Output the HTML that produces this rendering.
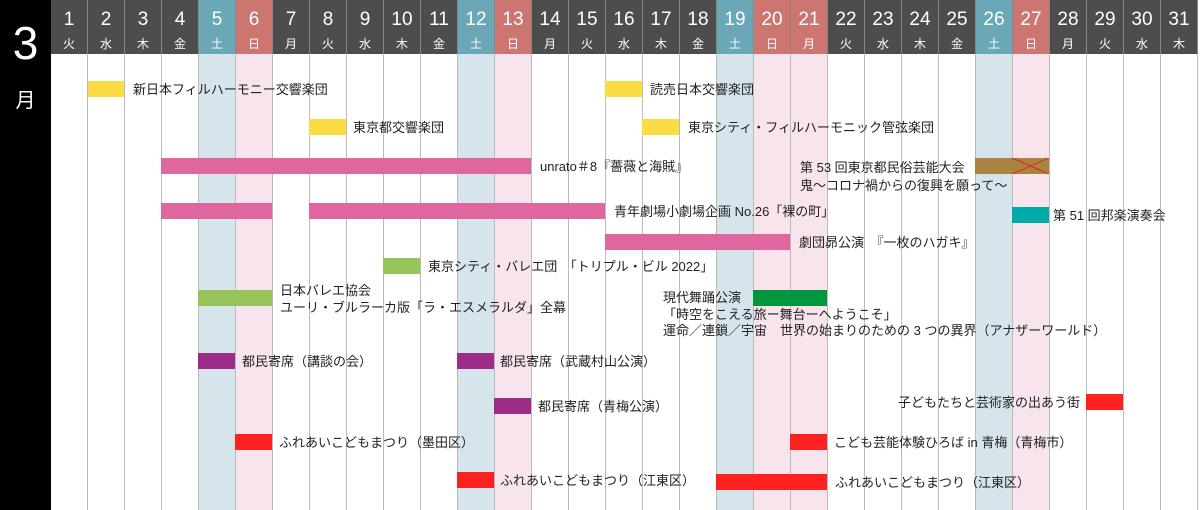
<!DOCTYPE html>
<html><head><meta charset="utf-8"><style>
body{margin:0;width:1200px;height:510px;overflow:hidden;background:#fff;font-family:"Liberation Sans","Noto Sans CJK JP",sans-serif;position:relative}
.a{position:absolute}
.col{position:absolute;top:0;height:510px;width:37px;box-sizing:border-box;border-right:1px solid #bbb}
.hd{position:absolute;top:0;height:54px;width:37px;color:#fff;text-align:center;box-sizing:border-box;border-right:1px solid #888}
.hd b{display:block;font-weight:normal;font-size:19px;margin-top:9px;line-height:22px}
.hd i{display:block;font-style:normal;font-size:12px;line-height:18px;margin-top:4px}
.bar{position:absolute;height:16px}
.t{position:absolute;font-size:13px;color:#222;white-space:nowrap;line-height:16px}
</style></head><body>
<div class="a" style="left:0;top:0;width:51px;height:510px;background:#000"></div>
<div class="a" style="left:0;top:18px;width:51px;text-align:center;color:#fff;font-size:46px;line-height:50px">3</div>
<div class="a" style="left:0;top:84px;width:51px;text-align:center;color:#fff;font-size:20px">月</div>
<div id="g"></div>
<script>
var w=["火","水","木","金","土","日","月"],h="";
for(var d=1;d<=31;d++){var x=51+37*(d-1),wd=w[(d-1)%7];
var sat=wd=="土",sun=wd=="日"||d==21;
var cb=sat?"#d6e5ec":sun?"#f8e4ec":"#fff";
var hb=sat?"#6aa8b8":sun?"#cd7570":"#4d4d4d";
h+='<div class="col" style="left:'+x+'px;background:'+cb+'"></div>';
h+='<div class="hd" style="left:'+x+'px;background:'+hb+'"><b>'+d+'</b><i>'+wd+'</i></div>';}
document.getElementById("g").innerHTML=h;
</script>
<div class="bar" style="left:88px;top:81px;width:36px;background:#fcdc44"></div>
<div class="t" style="left:133px;top:82px">新日本フィルハーモニー交響楽団</div>
<div class="bar" style="left:605px;top:81px;width:37px;background:#fcdc44"></div>
<div class="t" style="left:650px;top:82px">読売日本交響楽団</div>
<div class="bar" style="left:309px;top:119px;width:37px;background:#fcdc44"></div>
<div class="t" style="left:353px;top:120px">東京都交響楽団</div>
<div class="bar" style="left:642px;top:119px;width:37px;background:#fcdc44"></div>
<div class="t" style="left:688px;top:120px">東京シティ・フィルハーモニック管弦楽団</div>
<div class="bar" style="left:161px;top:158px;width:370px;background:#e066a0"></div>
<div class="t" style="left:540px;top:159px">unrato＃8『薔薇と海賊』</div>
<div class="t" style="left:800px;top:159px;line-height:18px">第 53 回東京都民俗芸能大会<br>鬼〜コロナ禍からの復興を願って〜</div>
<div class="bar" style="left:975px;top:158px;width:74px;background:#a88442"></div>
<svg class="a" style="left:1012px;top:158px" width="37" height="16"><path d="M0 0L37 16M0 16L37 0" stroke="#e82020" stroke-width="1"/></svg>
<div class="bar" style="left:161px;top:203px;width:111px;background:#e066a0"></div>
<div class="bar" style="left:309px;top:203px;width:296px;background:#e066a0"></div>
<div class="t" style="left:614px;top:204px">青年劇場小劇場企画 No.26「裸の町」</div>
<div class="bar" style="left:1012px;top:207px;width:37px;background:#00aaa8"></div>
<div class="t" style="left:1053px;top:208px">第 51 回邦楽演奏会</div>
<div class="bar" style="left:605px;top:234px;width:185px;background:#e066a0"></div>
<div class="t" style="left:799px;top:235px">劇団昴公演　『一枚のハガキ』</div>
<div class="bar" style="left:383px;top:258px;width:37px;background:#96c45a"></div>
<div class="t" style="left:428px;top:259px">東京シティ・バレエ団　「トリプル・ビル 2022」</div>
<div class="t" style="left:280px;top:282px;line-height:17px">日本バレエ協会<br>ユーリ・ブルラーカ版「ラ・エスメラルダ」全幕</div>
<div class="bar" style="left:198px;top:290px;width:74px;background:#96c45a"></div>
<div class="t" style="left:663px;top:290px;line-height:16.5px">現代舞踊公演<br>「時空をこえる旅ー舞台ーへようこそ」<br>運命／連鎖／宇宙　世界の始まりのための 3 つの異界（アナザーワールド）</div>
<div class="bar" style="left:753px;top:290px;width:74px;background:#009640"></div>
<div class="bar" style="left:198px;top:353px;width:37px;background:#9c2c88"></div>
<div class="t" style="left:242px;top:354px">都民寄席（講談の会）</div>
<div class="bar" style="left:457px;top:353px;width:37px;background:#9c2c88"></div>
<div class="t" style="left:500px;top:354px">都民寄席（武蔵村山公演）</div>
<div class="bar" style="left:494px;top:398px;width:37px;background:#9c2c88"></div>
<div class="t" style="left:538px;top:399px">都民寄席（青梅公演）</div>
<div class="t" style="left:898px;top:395px">子どもたちと芸術家の出あう街</div>
<div class="bar" style="left:1086px;top:394px;width:37px;background:#ff2020"></div>
<div class="bar" style="left:235px;top:434px;width:37px;background:#ff2020"></div>
<div class="t" style="left:279px;top:435px">ふれあいこどもまつり（墨田区）</div>
<div class="bar" style="left:790px;top:434px;width:37px;background:#ff2020"></div>
<div class="t" style="left:834px;top:435px">こども芸能体験ひろば in 青梅（青梅市）</div>
<div class="bar" style="left:457px;top:472px;width:37px;background:#ff2020"></div>
<div class="t" style="left:500px;top:473px">ふれあいこどもまつり（江東区）</div>
<div class="bar" style="left:716px;top:474px;width:111px;background:#ff2020"></div>
<div class="t" style="left:835px;top:475px">ふれあいこどもまつり（江東区）</div>
</body></html>
